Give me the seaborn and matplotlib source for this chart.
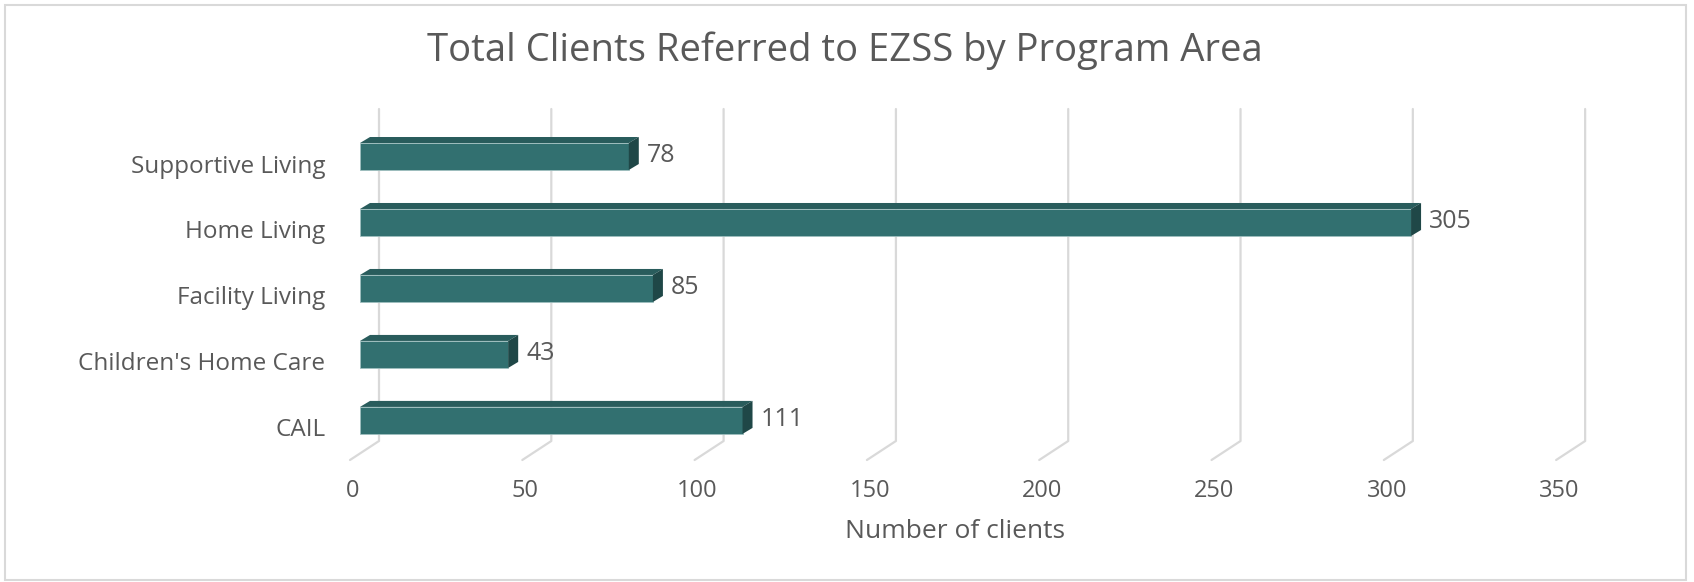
import matplotlib
matplotlib.use("Agg")
import matplotlib.pyplot as plt
import seaborn as sns
import pandas as pd
from matplotlib.patches import Polygon, Rectangle
from matplotlib.lines import Line2D
from matplotlib.transforms import ScaledTranslation

categories = ["Supportive Living", "Home Living", "Facility Living", "Children's Home Care", "CAIL"]
clients = [78, 305, 85, 43, 111]
x_ticks = [0, 50, 100, 150, 200, 250, 300, 350]
title = "Total Clients Referred to EZSS by Program Area"
x_label = "Number of clients"

sns.set_theme(style="white")
plt.rcParams["font.family"] = ["Open Sans", "DejaVu Sans"]

FRONT = "#327070"
TOP = "#295c5c"
SIDE = "#1f4747"
GRID = "#d9d9d9"
TXT = "#595959"

DPI = 100
W, H = 1694, 582
fig = plt.figure(figsize=(W / DPI, H / DPI), dpi=DPI)
fig.patch.set_facecolor("white")

left_px, right_px, top_px, bot_px = 360, 1600.6, 109, 460
ax = fig.add_axes([left_px / W, 1 - bot_px / H, (right_px - left_px) / W, (bot_px - top_px) / H])
ax.set_zorder(2)

df = pd.DataFrame({"category": categories, "clients": clients})
sns.barplot(data=df, x="clients", y="category", orient="h", color=FRONT,
            width=27 / 66, saturation=1, ax=ax, zorder=3)
ax.set_xlim(0, 360)
ax.set_ylim(4.6, -0.72)
for s in ax.spines.values():
    s.set_visible(False)
ax.set_facecolor("none")
ax.set_ylabel("")
ax.set_xlabel("")

ax.set_xticks(x_ticks)
ax.set_xticklabels([str(t) for t in x_ticks], fontsize=17, color=TXT)
ax.tick_params(axis="x", length=0, pad=14)
ax.tick_params(axis="y", length=0, pad=25)
for lab in ax.get_yticklabels():
    lab.set_fontsize(17.5)
    lab.set_color(TXT)
    lab.set_transform(lab.get_transform() + ScaledTranslation(0, -7 / DPI, fig.dpi_scale_trans))
for lab in ax.get_xticklabels():
    lab.set_transform(lab.get_transform() + ScaledTranslation(-7 / DPI, 0, fig.dpi_scale_trans))

fig.canvas.draw()
tD = ax.transData
inv = fig.transFigure.inverted()

def fig_pts(pts):
    return [tuple(inv.transform(p)) for p in pts]

for v in x_ticks:
    bx = tD.transform((v, 0))[0] + 19
    pts = [(bx, H - top_px), (bx, H - 441), (bx - 29, H - 460)]
    fp = fig_pts(pts)
    fig.add_artist(Line2D([p[0] for p in fp], [p[1] for p in fp], color=GRID, lw=1.6, zorder=1))

dx, dy = 10, 6
for patch, val in zip(ax.patches, clients):
    x0, y0 = patch.get_x(), patch.get_y()
    w, h = patch.get_width(), patch.get_height()
    (px0, pyA) = tD.transform((x0, y0))
    (px1, pyB) = tD.transform((x0 + w, y0 + h))
    ptop, pbot = max(pyA, pyB), min(pyA, pyB)
    top_face = [(px0, ptop), (px1, ptop), (px1 + dx, ptop + dy), (px0 + dx, ptop + dy)]
    side_face = [(px1, ptop), (px1 + dx, ptop + dy), (px1 + dx, pbot + dy), (px1, pbot)]
    fig.add_artist(Polygon(fig_pts(top_face), closed=True, facecolor=TOP, edgecolor="none", zorder=3))
    fig.add_artist(Polygon(fig_pts(side_face), closed=True, facecolor=SIDE, edgecolor="none", zorder=3))
    patch.set_zorder(5)
    patch.set_edgecolor("#9fbfbf")
    patch.set_linewidth(0.6)
    lx, ly = inv.transform((px1 + dx + 8, (ptop + pbot) / 2 + 1))
    fig.text(lx, ly, str(val), ha="left", va="center", fontsize=18, color=TXT, zorder=4)

fig.text(845 / W, 1 - 51 / H, title, ha="center", va="center", fontsize=27.5, color=TXT)
fig.text(955 / W, 1 - 531 / H, x_label, ha="center", va="center", fontsize=19, color=TXT)

fig.add_artist(Rectangle((5 / W, 1 - 580 / H), (1686 - 5) / W, (580 - 5) / H, transform=fig.transFigure,
                         fill=False, edgecolor=GRID, lw=1.5, zorder=0))

fig.savefig("out.png", dpi=DPI, facecolor="white")
